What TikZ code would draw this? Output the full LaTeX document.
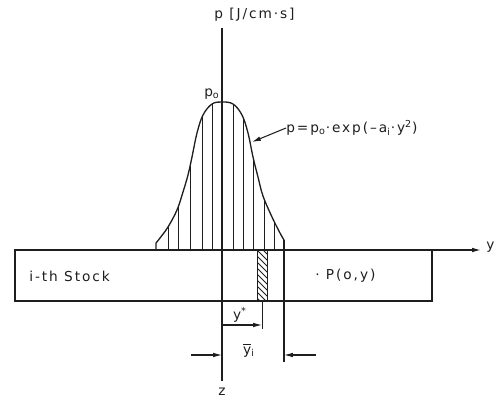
\documentclass[tikz,border=0pt]{standalone}
\usepackage{fontspec}
\setmainfont{DejaVu Sans}
\newfontfamily\lettering[LetterSpace=14]{DejaVu Sans}
\usepackage{tikz}
\usetikzlibrary{positioning, arrows.meta, calc}
\definecolor{ink}{HTML}{1E1E1E}
\tikzset{
  axisline/.style={draw=ink, line width=0.75pt},
  hatchline/.style={draw=ink, line width=0.5pt},
  dimarrow/.style={draw=ink, line width=0.6pt, -{Latex[length=5pt,width=2.6pt]}},
  lbl/.style={font=\lettering\fontsize{7.8}{9}\selectfont, text=ink, inner sep=0pt},
}

\begin{document}
\begin{tikzpicture}[x=0.02cm, y=-0.02cm]
    \useasboundingbox (0,0) rectangle (498,399);
    % axes
    \coordinate (pTop) at (222,28);
    \coordinate (zEnd) at (222,381);
    \coordinate (yStart) at (15,250);
    \coordinate (yEnd) at (481,250);
    \draw[axisline] (pTop) -- (zEnd);
    \draw[axisline, -{Latex[length=5pt,width=2.6pt]}] (yStart) -- (yEnd);
    \node[lbl, anchor=west] (pLabel) at (214,15) {p [J/cm·s]};
    \node[lbl, anchor=west] (yLabel) at (486,247) {y};
    \node[lbl] (zLabel) at (222,392) {z};

    % pressure pulse, hatched below the curve
    \path[save path=\pulsepath] (156,250) -- plot[smooth, tension=0.6] coordinates {
        (156,243) (160,238) (168,227) (177,210) (183,192) (188,175) (192,157)
        (197,133) (203,115) (212,104) (222,102) (233,104) (242,115) (248,133)
        (253,157) (258,177) (263,196) (272,217) (280,233) (284,240)
      } -- (284,250) -- cycle;
    \begin{scope}
      \clip[use path=\pulsepath];
      \foreach \hx in {168,178,190,202,212,233,243,253,264,274}
        \draw[hatchline] (\hx,251) -- (\hx,90);
    \end{scope}
    \draw[axisline, use path=\pulsepath];
    \node[lbl] (pZero) at (212,94) {p\textsubscript{o}};
    \node[lbl, anchor=west] (pLaw) at (286,128) {p=p\textsubscript{o}·exp(–a\textsubscript{i}·y\textsuperscript{2})};
    \coordinate (curveHit) at (252,142);
    \draw[dimarrow] (pLaw.west) -- (curveHit);

    % the stock
    \draw[axisline] (15,250) rectangle (432,301);
    \node[lbl, anchor=west] (stock) at (29,276) {i-th Stock};
    \node[lbl, anchor=west] (pointP) at (315,276) {· P(o,y)};
    \begin{scope}
      \clip (257,250) rectangle (267,301);
      \foreach \k in {0,...,10}
        \draw[hatchline] (255,236+6*\k) -- ++(16,16);
    \end{scope}
    \draw[hatchline] (257,250) rectangle (267,301);

    % dimensions
    \coordinate (edgeTop) at (284,240);
    \coordinate (edgeBot) at (284,362);
    \draw[axisline] (edgeTop) -- (edgeBot);
    \coordinate (starTop) at (262,301);
    \coordinate (starBot) at (262,329);
    \draw[hatchline] (starTop) -- (starBot);
    \coordinate (starL) at (222,325);
    \coordinate (starR) at (262,325);
    \draw[dimarrow] (starL) -- (starR);
    \node[lbl] (yStar) at (240,315) {y\textsuperscript{*}};
    \coordinate (barL0) at (191,355);
    \coordinate (barL1) at (222,355);
    \coordinate (barR0) at (316,355);
    \coordinate (barR1) at (284,355);
    \draw[dimarrow] (barL0) -- (barL1);
    \draw[dimarrow] (barR0) -- (barR1);
    \node[lbl] (yBar) at (249,350) {$\overline{\mbox{y}}$\textsubscript{i}};
\end{tikzpicture}
\end{document}
